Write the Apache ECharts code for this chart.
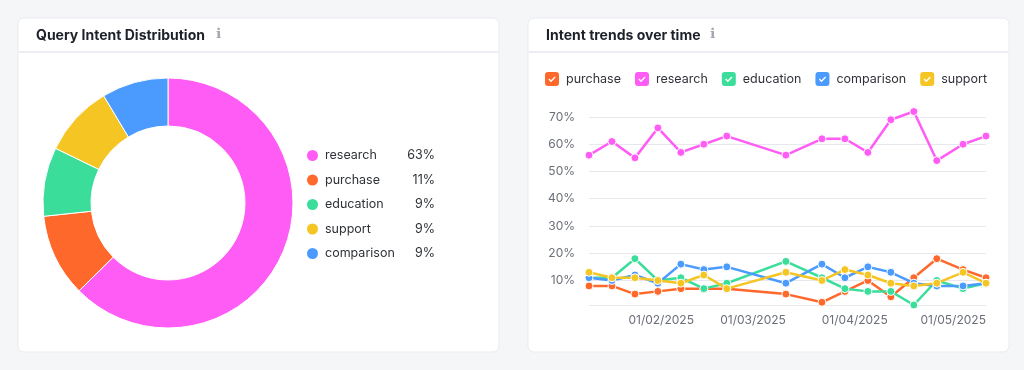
<!DOCTYPE html>
<html>
<head>
<meta charset="utf-8">
<script src="https://cdn.jsdelivr.net/npm/echarts@6/dist/echarts.min.js"></script>
<style>
  html, body { margin: 0; padding: 0; background: #f5f6f8; }
  #chart { width: 1024px; height: 370px; }
</style>
</head>
<body>
<div id="chart"></div>
<script>
// ---- Data ----
const pieNames = ['research', 'purchase', 'education', 'support', 'comparison'];
const pieValues = [62.6, 10.7, 8.9, 9.2, 8.6];

const dates = ['2025-01-10', '2025-01-17', '2025-01-24', '2025-01-31', '2025-02-07', '2025-02-14', '2025-02-21',
  '2025-03-11', '2025-03-22', '2025-03-29', '2025-04-05', '2025-04-12', '2025-04-19', '2025-04-26', '2025-05-04', '2025-05-11'];
const purchase   = [8, 8, 5, 6, 7, 7, 7, 5, 2, 6, 10, 4, 11, 18, 14, 11];
const research   = [56, 61, 55, 66, 57, 60, 63, 56, 62, 62, 57, 69, 72, 54, 60, 63];
const education  = [11, 11, 18, 10, 11, 7, 9, 17, 11, 7, 6, 6, 1, 10, 7, 9];
const comparison = [11, 10, 12, 9, 16, 14, 15, 9, 16, 11, 15, 13, 9, 8, 8, 9];
const support    = [13, 11, 11, 10, 9, 12, 7, 13, 10, 14, 12, 9, 8, 9, 13, 9];

const lineNames = ['purchase', 'research', 'education', 'comparison', 'support'];
const lineValues = [purchase, research, education, comparison, support];

const colors = {
  research: '#ff5cf5',
  purchase: '#ff682b',
  education: '#3bdd9b',
  support: '#f5c523',
  comparison: '#4b9bff'
};

// ---- Chart ----
const FONT = 'Inter, "Noto Sans", sans-serif';
const chart = echarts.init(document.getElementById('chart'), null, { renderer: 'canvas' });

const pieTotal = pieValues.reduce((a, b) => a + b, 0);
const pctOf = {};
pieNames.forEach((n, i) => { pctOf[n] = Math.round(pieValues[i] / pieTotal * 100) + '%'; });

const checkIcon = 'path://M3,0 H11 Q14,0 14,3 V11 Q14,14 11,14 H3 Q0,14 0,11 V3 Q0,0 3,0 Z ' +
  'M3.4,7.6 L6,10.2 L10.6,5.6 L9.6,4.6 L6,8.2 L4.4,6.6 Z';

function pad(n) { return n < 10 ? '0' + n : '' + n; }

const lineSeries = lineNames.map((name, k) => ({
  name: name,
  type: 'line',
  data: dates.map((d, i) => [d, lineValues[k][i]]),
  symbol: 'circle',
  symbolSize: 8,
  clip: false,
  lineStyle: { width: 2.5, color: colors[name] },
  itemStyle: { color: colors[name], borderColor: '#ffffff', borderWidth: 1 },
  emphasis: { disabled: true },
  z: 3 + k
}));

const option = {
  animation: false,
  backgroundColor: '#f5f6f8',
  textStyle: { fontFamily: FONT },
  graphic: [
    { type: 'rect', shape: { x: 18, y: 18, width: 481, height: 334, r: 6 }, style: { fill: '#ffffff', stroke: '#e9ebef', lineWidth: 1 }, z: -10 },
    { type: 'rect', shape: { x: 528, y: 18, width: 481, height: 334, r: 6 }, style: { fill: '#ffffff', stroke: '#e9ebef', lineWidth: 1 }, z: -10 },
    { type: 'line', shape: { x1: 18.5, y1: 52, x2: 498.5, y2: 52 }, style: { stroke: '#eceef2', lineWidth: 2 }, z: -9 },
    { type: 'line', shape: { x1: 528.5, y1: 52, x2: 1008.5, y2: 52 }, style: { stroke: '#eceef2', lineWidth: 2 }, z: -9 },
    { type: 'text', left: 36, top: 28.5, style: { text: 'Query Intent Distribution', fill: '#1d2129', font: '700 14px ' + FONT } },
    { type: 'text', left: 216, top: 27, style: { text: 'ℹ', fill: '#a3a7b0', font: '14px "DejaVu Sans"' } },
    { type: 'text', left: 546, top: 28.5, style: { text: 'Intent trends over time', fill: '#1d2129', font: '700 14px ' + FONT } },
    { type: 'text', left: 710, top: 27, style: { text: 'ℹ', fill: '#a3a7b0', font: '14px "DejaVu Sans"' } }
  ],
  legend: [
    {
      data: pieNames,
      orient: 'vertical',
      left: 307,
      top: 149,
      padding: 0,
      icon: 'circle',
      itemWidth: 11,
      itemHeight: 11,
      itemGap: 11.5,
      selectedMode: false,
      itemStyle: { borderWidth: 0 },
      formatter: function (name) { return '{n|' + name + '}{v|' + pctOf[name] + '}'; },
      textStyle: {
        fontFamily: FONT,
        padding: [0, 0, 0, 2],
        rich: {
          n: { width: 80, fontSize: 12.5, color: '#2f3238', fontFamily: FONT },
          v: { width: 30, align: 'right', fontSize: 12.5, color: '#2f3238', fontFamily: FONT }
        }
      }
    },
    {
      data: lineNames,
      orient: 'horizontal',
      left: 545,
      top: 72,
      padding: 0,
      icon: checkIcon,
      itemWidth: 14,
      itemHeight: 14,
      itemGap: 14,
      selectedMode: false,
      itemStyle: { borderWidth: 0 },
      textStyle: { fontSize: 12.5, color: '#2f3238', fontFamily: FONT, padding: [0, 0, 0, 2] }
    }
  ],
  grid: { left: 589, right: 38, top: 117, bottom: 65 },
  xAxis: {
    type: 'time',
    min: 'dataMin',
    max: 'dataMax',
    splitNumber: 4,
    axisLine: { show: false },
    axisTick: { show: false },
    splitLine: { show: false },
    axisLabel: {
      color: '#6b6f78',
      fontSize: 12,
      fontFamily: FONT,
      margin: 9,
      hideOverlap: false,
      formatter: function (v) {
        const d = new Date(v);
        if (d.getDate() !== 1) return '';
        return pad(d.getDate()) + '/' + pad(d.getMonth() + 1) + '/' + d.getFullYear();
      }
    }
  },
  yAxis: {
    type: 'value',
    min: 'dataMin',
    max: 70,
    splitNumber: 7,
    axisLine: { show: false },
    axisTick: { show: false },
    splitLine: { lineStyle: { color: '#e7e8ee', width: 1 } },
    axisLabel: {
      color: '#6b6f78',
      fontSize: 12,
      fontFamily: FONT,
      margin: 14,
      formatter: function (v) { return (v % 10 === 0 && v > 0) ? v + '%' : ''; }
    }
  },
  series: [
    {
      name: 'intent share',
      type: 'pie',
      center: [168, 203],
      radius: [77, 125],
      startAngle: 90,
      clockwise: true,
      label: { show: false },
      labelLine: { show: false },
      emphasis: { disabled: true },
      itemStyle: { borderColor: '#ffffff', borderWidth: 1 },
      data: pieNames.map((n, i) => ({ name: n, value: pieValues[i], itemStyle: { color: colors[n] } }))
    }
  ].concat(lineSeries)
};

chart.setOption(option);
</script>
</body>
</html>
